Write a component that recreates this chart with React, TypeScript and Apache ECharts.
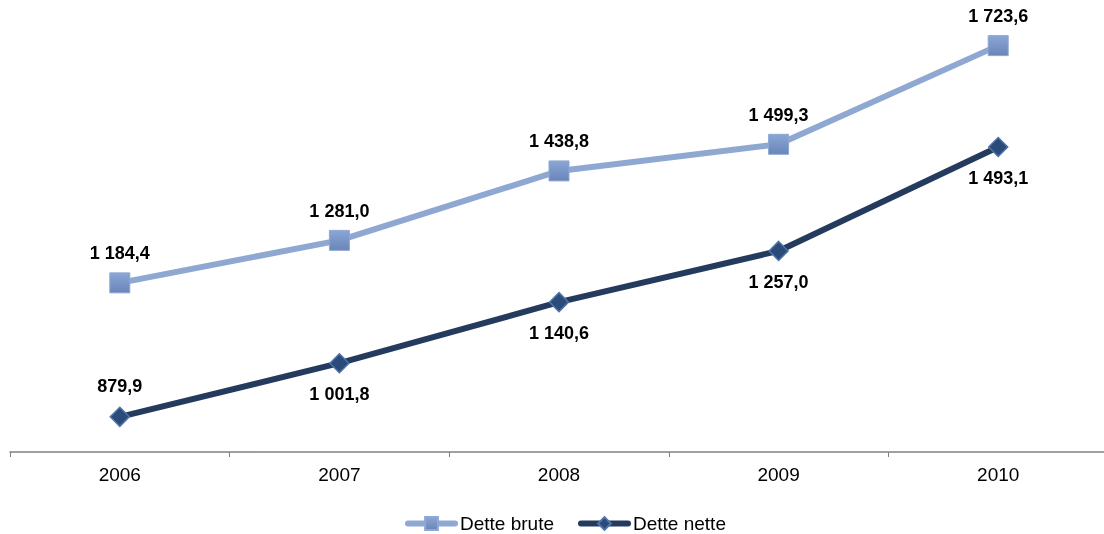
import React, { useEffect, useRef } from "react";
import * as echarts from "echarts";

const years = ["2006", "2007", "2008", "2009", "2010"];
const detteBrute = [1184.4, 1281.0, 1438.8, 1499.3, 1723.6];
const detteNette = [879.9, 1001.8, 1140.6, 1257.0, 1493.1];
const nettePositions = ["top", "bottom", "bottom", "bottom", "bottom"];

function fmt(v: number): string {
  const [i, d] = v.toFixed(1).split(".");
  const withSpaces = i.replace(/\B(?=(\d{3})+(?!\d))/g, " ");
  return withSpaces + "," + d;
}

export default function App() {
  const ref = useRef<HTMLDivElement>(null);
  useEffect(() => {
    const chart = echarts.init(ref.current!, null, { renderer: "svg" });
    const font = "'Liberation Sans', Arial, Helvetica, sans-serif";
    chart.setOption({
      animation: false,
      textStyle: { fontFamily: font },
      grid: {
        left: 10,
        width: 1098,
        top: 12,
        height: 440,
        containLabel: false,
        outerBoundsMode: "none",
      },
      xAxis: {
        type: "category",
        data: years,
        boundaryGap: true,
        axisLine: { lineStyle: { color: "#808080", width: 1.5 } },
        axisTick: { show: true, length: 5, lineStyle: { color: "#808080" } },
        axisLabel: { color: "#000", fontSize: 19, margin: 13, fontFamily: font },
      },
      yAxis: {
        type: "value",
        min: 800,
        max: 1800,
        show: false,
        splitLine: { show: false },
      },
      legend: {
        top: 514,
        left: 405,
        padding: 0,
        itemWidth: 47,
        itemHeight: 16,
        itemGap: 24,
        lineStyle: { width: 6, cap: "round" },
        textStyle: { fontSize: 19, color: "#000", fontFamily: font },
        data: ["Dette brute", "Dette nette"],
      },
      series: [
        {
          name: "Dette brute",
          type: "line",
          data: detteBrute,
          symbol: "rect",
          symbolSize: 20,
          lineStyle: { color: "#8FA8D2", width: 6 },
          itemStyle: {
            color: new echarts.graphic.LinearGradient(0, 0, 0, 1, [
              { offset: 0, color: "#8AA6D6" },
              { offset: 1, color: "#6A85B8" },
            ]),
            borderColor: "#8FA8D2",
            borderWidth: 1,
          },
          label: {
            show: true,
            position: "top",
            distance: 10,
            formatter: (p: any) => fmt(p.value),
            fontSize: 18,
            fontWeight: "bold",
            color: "#000",
            fontFamily: font,
          },
        },
        {
          name: "Dette nette",
          type: "line",
          data: detteNette.map((v, i) => ({
            value: v,
            label: { position: nettePositions[i] },
          })),
          symbol: "diamond",
          symbolSize: 19,
          lineStyle: { color: "#243B5E", width: 6 },
          itemStyle: {
            color: "#2B4C7A",
            borderColor: "#4F74A6",
            borderWidth: 1.5,
          },
          label: {
            show: true,
            distance: 12,
            formatter: (p: any) => fmt(p.value),
            fontSize: 18,
            fontWeight: "bold",
            color: "#000",
            fontFamily: font,
          },
        },
      ],
    });
    return () => chart.dispose();
  }, []);
  return (
    <div
      ref={ref}
      style={{ position: "fixed", left: 0, top: 0, width: 1104, height: 534 }}
    />
  );
}
